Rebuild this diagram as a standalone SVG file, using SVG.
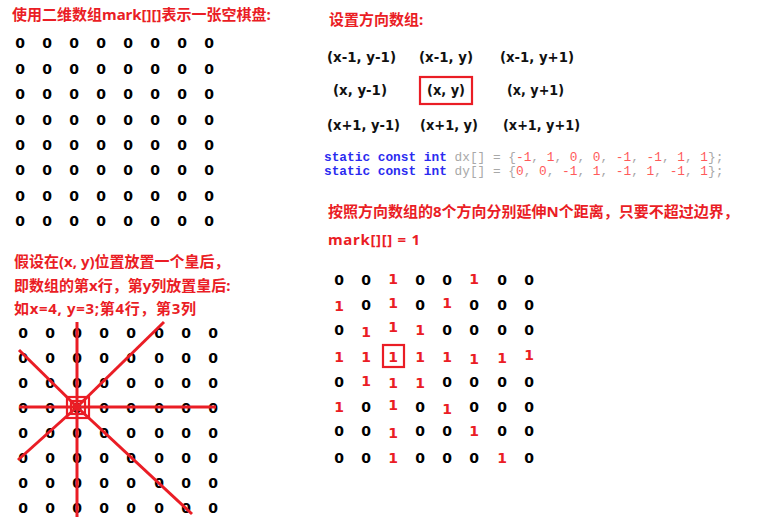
<svg xmlns="http://www.w3.org/2000/svg" width="766" height="523" viewBox="0 0 766 523">
<style>
.t{font-family:"Noto Sans","Noto Sans CJK SC",sans-serif;font-weight:bold;font-size:15px;fill:#ea1d25}
.d{font-family:"DejaVu Sans",sans-serif;font-weight:bold;font-size:14px;fill:#000;text-anchor:middle}
.r{fill:#ea1d25}
.lb{font-family:"DejaVu Sans",sans-serif;font-weight:bold;font-size:14px;fill:#111}
.code{font-family:"Liberation Mono",monospace;font-size:12.8px}
.kw{fill:#2b2bf0;font-weight:bold}
.g{fill:#a8a8a8}
.n{fill:#ff5a5a}
.ln{stroke:#ea1d25;stroke-width:3;fill:none}
.box{stroke:#ea1d25;stroke-width:2.2;fill:none}
</style>
<rect width="766" height="523" fill="#fff"/>

<g id="title-left">
<text class="t" x="12" y="20">使用二维数组mark[][]表示一张空棋盘:</text>
</g>

<g id="grid-empty" class="d">
<text x="20" y="48">0</text><text x="47" y="48">0</text><text x="74" y="48">0</text><text x="101" y="48">0</text><text x="128" y="48">0</text><text x="155" y="48">0</text><text x="182" y="48">0</text><text x="209" y="48">0</text>
<text x="20" y="74">0</text><text x="47" y="74">0</text><text x="74" y="74">0</text><text x="101" y="74">0</text><text x="128" y="74">0</text><text x="155" y="74">0</text><text x="182" y="74">0</text><text x="209" y="74">0</text>
<text x="20" y="99">0</text><text x="47" y="99">0</text><text x="74" y="99">0</text><text x="101" y="99">0</text><text x="128" y="99">0</text><text x="155" y="99">0</text><text x="182" y="99">0</text><text x="209" y="99">0</text>
<text x="20" y="125">0</text><text x="47" y="125">0</text><text x="74" y="125">0</text><text x="101" y="125">0</text><text x="128" y="125">0</text><text x="155" y="125">0</text><text x="182" y="125">0</text><text x="209" y="125">0</text>
<text x="20" y="150">0</text><text x="47" y="150">0</text><text x="74" y="150">0</text><text x="101" y="150">0</text><text x="128" y="150">0</text><text x="155" y="150">0</text><text x="182" y="150">0</text><text x="209" y="150">0</text>
<text x="20" y="175">0</text><text x="47" y="175">0</text><text x="74" y="175">0</text><text x="101" y="175">0</text><text x="128" y="175">0</text><text x="155" y="175">0</text><text x="182" y="175">0</text><text x="209" y="175">0</text>
<text x="20" y="201">0</text><text x="47" y="201">0</text><text x="74" y="201">0</text><text x="101" y="201">0</text><text x="128" y="201">0</text><text x="155" y="201">0</text><text x="182" y="201">0</text><text x="209" y="201">0</text>
<text x="20" y="226">0</text><text x="47" y="226">0</text><text x="74" y="226">0</text><text x="101" y="226">0</text><text x="128" y="226">0</text><text x="155" y="226">0</text><text x="182" y="226">0</text><text x="209" y="226">0</text>
</g>

<g id="text-queen">
<text class="t" x="14" y="267">假设在(x, y)位置放置一个皇后，</text>
<text class="t" x="14" y="291">即数组的第x行，第y列放置皇后:</text>
<text class="t" x="14" y="314" textLength="182">如x=4, y=3;第4行，第3列</text>
</g>

<g id="grid-queen" class="d">
<text x="23" y="338">0</text><text x="50" y="338">0</text><text x="77" y="338">0</text><text x="104" y="338">0</text><text x="131" y="338">0</text><text x="159" y="338">0</text><text x="186" y="338">0</text><text x="213" y="338">0</text>
<text x="23" y="363">0</text><text x="50" y="363">0</text><text x="77" y="363">0</text><text x="104" y="363">0</text><text x="131" y="363">0</text><text x="159" y="363">0</text><text x="186" y="363">0</text><text x="213" y="363">0</text>
<text x="23" y="388">0</text><text x="50" y="388">0</text><text x="77" y="388">0</text><text x="104" y="388">0</text><text x="131" y="388">0</text><text x="159" y="388">0</text><text x="186" y="388">0</text><text x="213" y="388">0</text>
<text x="23" y="413">0</text><text x="50" y="413">0</text><text x="77" y="413">0</text><text x="104" y="413">0</text><text x="131" y="413">0</text><text x="159" y="413">0</text><text x="186" y="413">0</text><text x="213" y="413">0</text>
<text x="23" y="438">0</text><text x="50" y="438">0</text><text x="77" y="438">0</text><text x="104" y="438">0</text><text x="131" y="438">0</text><text x="159" y="438">0</text><text x="186" y="438">0</text><text x="213" y="438">0</text>
<text x="23" y="463">0</text><text x="50" y="463">0</text><text x="77" y="463">0</text><text x="104" y="463">0</text><text x="131" y="463">0</text><text x="159" y="463">0</text><text x="186" y="463">0</text><text x="213" y="463">0</text>
<text x="23" y="488">0</text><text x="50" y="488">0</text><text x="77" y="488">0</text><text x="104" y="488">0</text><text x="131" y="488">0</text><text x="159" y="488">0</text><text x="186" y="488">0</text><text x="213" y="488">0</text>
<text x="23" y="513">0</text><text x="50" y="513">0</text><text x="77" y="513">0</text><text x="104" y="513">0</text><text x="131" y="513">0</text><text x="159" y="513">0</text><text x="186" y="513">0</text><text x="213" y="513">0</text>
</g>

<g id="connectors">
<line class="ln" x1="77" y1="322" x2="77" y2="517"/>
<line class="ln" x1="19" y1="407" x2="216" y2="407"/>
<line class="ln" x1="19" y1="350" x2="77" y2="407"/>
<line class="ln" x1="77" y1="407" x2="164" y2="322"/>
<line class="ln" x1="77" y1="407" x2="18" y2="460"/>
<line class="ln" x1="77" y1="407" x2="192" y2="514"/>
</g>

<g id="queen">
<rect class="box" x="67" y="397" width="22" height="21"/>
<rect class="box" x="71" y="401" width="14" height="13" stroke-width="1.5"/>
</g>

<g id="title-right">
<text class="t" x="329" y="25">设置方向数组:</text>
</g>

<g id="directions" class="lb">
<text x="327" y="62" textLength="69" lengthAdjust="spacingAndGlyphs">(x-1, y-1)</text>
<text x="419" y="62" textLength="54" lengthAdjust="spacingAndGlyphs">(x-1, y)</text>
<text x="500" y="62" textLength="74" lengthAdjust="spacingAndGlyphs">(x-1, y+1)</text>
<text x="333" y="95" textLength="54" lengthAdjust="spacingAndGlyphs">(x, y-1)</text>
<text x="427" y="95" textLength="38" lengthAdjust="spacingAndGlyphs">(x, y)</text>
<text x="507" y="95" textLength="57" lengthAdjust="spacingAndGlyphs">(x, y+1)</text>
<text x="327" y="130" textLength="73" lengthAdjust="spacingAndGlyphs">(x+1, y-1)</text>
<text x="420" y="130" textLength="58" lengthAdjust="spacingAndGlyphs">(x+1, y)</text>
<text x="503" y="130" textLength="77" lengthAdjust="spacingAndGlyphs">(x+1, y+1)</text>
<rect class="box" x="420" y="77" width="52" height="27"/>
</g>

<g id="code" class="code">
<text x="324" y="161" xml:space="preserve"><tspan class="kw">static const int</tspan><tspan class="g"> dx[] = {</tspan><tspan class="n">-1</tspan><tspan class="g">, </tspan><tspan class="n">1</tspan><tspan class="g">, </tspan><tspan class="n">0</tspan><tspan class="g">, </tspan><tspan class="n">0</tspan><tspan class="g">, </tspan><tspan class="n">-1</tspan><tspan class="g">, </tspan><tspan class="n">-1</tspan><tspan class="g">, </tspan><tspan class="n">1</tspan><tspan class="g">, </tspan><tspan class="n">1</tspan><tspan class="g">};</tspan></text>
<text x="324" y="175" xml:space="preserve"><tspan class="kw">static const int</tspan><tspan class="g"> dy[] = {</tspan><tspan class="n">0</tspan><tspan class="g">, </tspan><tspan class="n">0</tspan><tspan class="g">, </tspan><tspan class="n">-1</tspan><tspan class="g">, </tspan><tspan class="n">1</tspan><tspan class="g">, </tspan><tspan class="n">-1</tspan><tspan class="g">, </tspan><tspan class="n">1</tspan><tspan class="g">, </tspan><tspan class="n">-1</tspan><tspan class="g">, </tspan><tspan class="n">1</tspan><tspan class="g">};</tspan></text>
</g>

<g id="text-extend">
<text class="t" x="328" y="217">按照方向数组的8个方向分别延伸N个距离，只要不超过边界，</text>
<text class="t" x="328" y="245" textLength="92">mark[][] = 1</text>
</g>

<g id="grid-marked" class="d">
<text x="339" y="285">0</text><text x="366" y="285">0</text><text class="r" x="393" y="284">1</text><text x="420" y="285">0</text><text x="447" y="285">0</text><text class="r" x="474" y="284">1</text><text x="502" y="285">0</text><text x="529" y="285">0</text>
<text class="r" x="339" y="311">1</text><text x="366" y="310">0</text><text class="r" x="393" y="308">1</text><text x="420" y="310">0</text><text class="r" x="447" y="308">1</text><text x="474" y="310">0</text><text x="502" y="310">0</text><text x="529" y="310">0</text>
<text x="339" y="335">0</text><text class="r" x="366" y="337">1</text><text class="r" x="393" y="332">1</text><text class="r" x="420" y="335">1</text><text x="447" y="335">0</text><text x="474" y="335">0</text><text x="502" y="335">0</text><text x="529" y="335">0</text>
<text class="r" x="339" y="362">1</text><text class="r" x="366" y="362">1</text><text class="r" x="393" y="362">1</text><text class="r" x="420" y="362">1</text><text class="r" x="447" y="362">1</text><text class="r" x="474" y="364">1</text><text class="r" x="502" y="363">1</text><text class="r" x="529" y="360">1</text>
<text x="339" y="387">0</text><text class="r" x="366" y="386">1</text><text class="r" x="393" y="388">1</text><text class="r" x="420" y="388">1</text><text x="447" y="387">0</text><text x="474" y="387">0</text><text x="502" y="387">0</text><text x="529" y="387">0</text>
<text class="r" x="339" y="412">1</text><text x="366" y="412">0</text><text class="r" x="393" y="410">1</text><text x="420" y="412">0</text><text class="r" x="447" y="414">1</text><text x="474" y="412">0</text><text x="502" y="412">0</text><text x="529" y="412">0</text>
<text x="339" y="436">0</text><text x="366" y="436">0</text><text class="r" x="393" y="438">1</text><text x="420" y="436">0</text><text x="447" y="436">0</text><text class="r" x="474" y="436">1</text><text x="502" y="436">0</text><text x="529" y="436">0</text>
<text x="339" y="463">0</text><text x="366" y="463">0</text><text class="r" x="393" y="463">1</text><text x="420" y="463">0</text><text x="447" y="463">0</text><text x="474" y="463">0</text><text class="r" x="502" y="463">1</text><text x="529" y="463">0</text>
<rect class="box" x="383" y="345" width="21" height="22"/>
</g>
</svg>
